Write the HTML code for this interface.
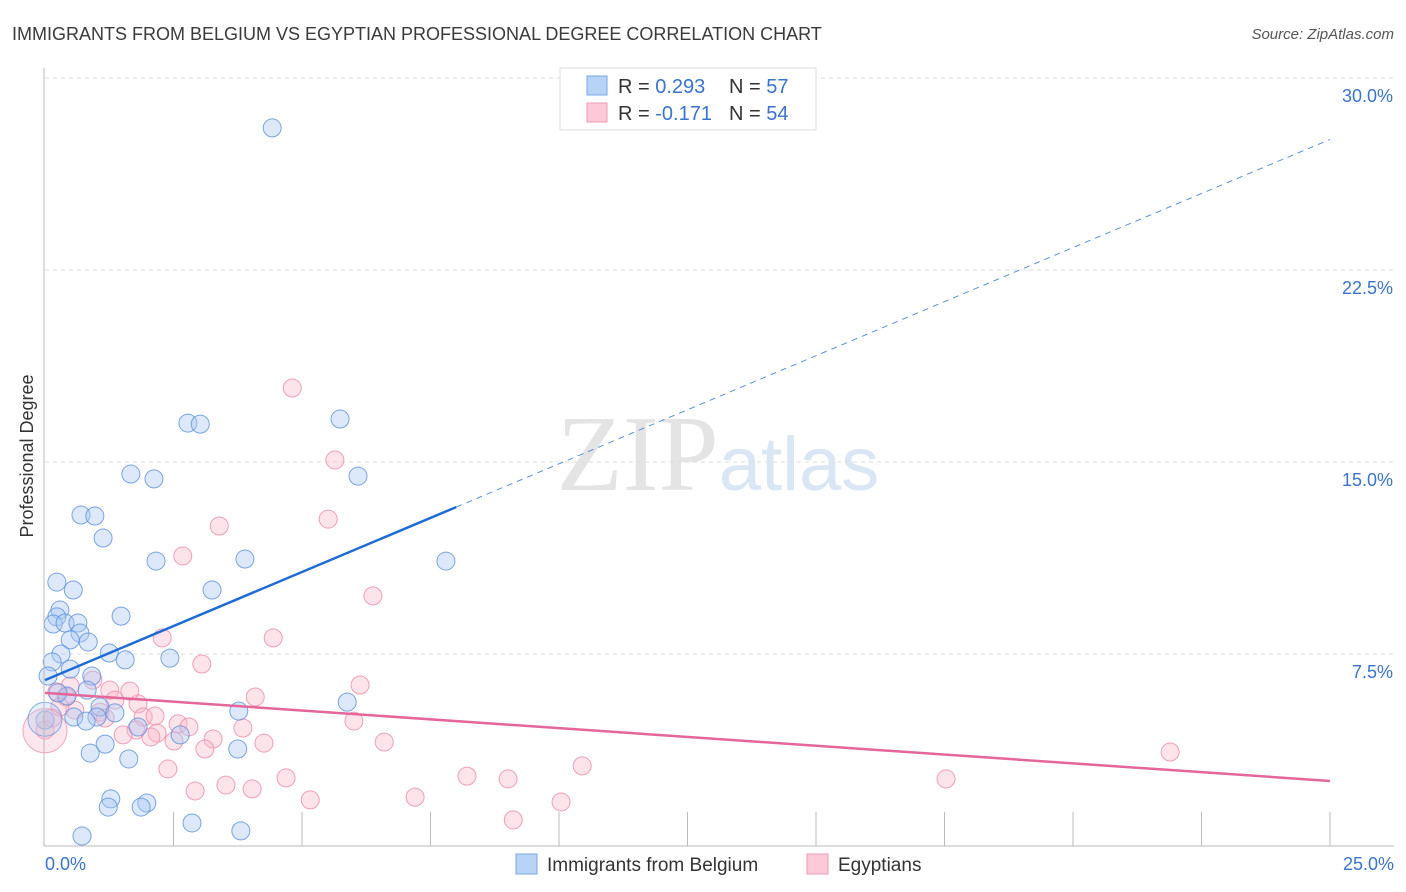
<!DOCTYPE html>
<html><head><meta charset="utf-8"><style>
body{margin:0;background:#fff;font-family:"Liberation Sans",sans-serif}
svg{display:block}
</style></head><body>
<svg id="chart" width="1406" height="892">
<text x="12" y="40" font-size="18" fill="#3a3a3a">IMMIGRANTS FROM BELGIUM VS EGYPTIAN PROFESSIONAL DEGREE CORRELATION CHART</text>
<text x="1394" y="39" font-size="15" fill="#555" font-style="italic" text-anchor="end">Source: ZipAtlas.com</text>
<text x="718" y="490" font-size="108" fill="#e4e4e4" text-anchor="middle" font-family="Liberation Serif">ZIP<tspan fill="#dbe6f5" font-family="Liberation Sans" font-size="76">atlas</tspan></text>
<g id="grid"></g>
<g id="marks"></g>
<line x1="44" y1="68" x2="44" y2="846" stroke="#bbb"/>
<line x1="44" y1="846" x2="1394" y2="846" stroke="#bbb"/>
<text transform="translate(33,456) rotate(-90)" font-size="18" fill="#333" text-anchor="middle">Professional Degree</text>
<text x="45" y="870" font-size="18" fill="#3b73d1">0.0%</text>
<text x="1394" y="870" font-size="18" fill="#3b73d1" text-anchor="end">25.0%</text>
<g>
<rect x="560" y="68" width="256" height="62" fill="#fff" stroke="#ddd"/>
<rect x="587" y="76" width="20" height="19" fill="#b7d3f6" stroke="#7aa7e6"/>
<rect x="587" y="103" width="20" height="19" fill="#fbc9d8" stroke="#ef9ab5"/>
<text x="618" y="93" font-size="20" fill="#333">R = <tspan fill="#3b73d1">0.293</tspan><tspan x="729">N = </tspan><tspan fill="#3b73d1">57</tspan></text>
<text x="618" y="120" font-size="20" fill="#333">R = <tspan fill="#3b73d1">-0.171</tspan><tspan x="729">N = </tspan><tspan fill="#3b73d1">54</tspan></text>
</g>
<g>
<rect x="516" y="854" width="21" height="20" fill="#b7d3f6" stroke="#7aa7e6"/>
<text x="547" y="871" font-size="19" fill="#333">Immigrants from Belgium</text>
<rect x="807" y="854" width="21" height="20" fill="#fbc9d8" stroke="#ef9ab5"/>
<text x="838" y="871" font-size="19" fill="#333">Egyptians</text>
</g>
</svg>
<script>
const yTicks=[7.5,15,22.5,30];
const yTickLabels=["7.5%","15.0%","22.5%","30.0%"];
const xTicks=[2.5,5,7.5,10,12.5,15,17.5,20,22.5,25];
const blueX=[4.42,2.78,3.02,5.74,1.67,2.12,6.09,0.70,0.97,1.13,2.16,3.89,7.80,0.23,0.55,3.25,0.29,0.23,1.48,0.16,0.39,0.64,0.68,0.84,0.49,0.31,1.25,1.56,2.43,0.14,0.49,0.06,0.91,0.82,0.43,5.88,1.07,1.36,0.56,1.01,0.80,3.77,1.81,2.63,1.17,0.88,3.75,1.63,1.28,1.23,1.98,1.87,0.72,2.86,3.81,0.00,0.25];
const blueY=[28.05,16.52,16.48,16.68,14.53,14.34,14.45,12.93,12.89,12.03,11.13,11.21,11.13,10.31,10.00,10.00,9.22,8.95,8.98,8.67,8.71,8.71,8.32,7.97,8.05,7.50,7.54,7.27,7.34,7.19,6.91,6.64,6.64,6.09,5.86,5.62,5.43,5.20,5.04,5.04,4.88,5.27,4.65,4.34,3.98,3.63,3.79,3.40,1.84,1.52,1.68,1.52,0.39,0.90,0.59,4.92,5.98];
const pinkX=[4.81,5.64,3.39,5.51,2.68,6.38,2.28,4.44,3.05,6.13,0.93,1.26,0.49,0.23,1.36,1.81,0.41,0.58,1.07,1.91,2.14,1.17,2.59,2.80,3.85,4.09,6.01,1.77,2.18,1.52,3.27,2.51,2.06,4.26,3.11,6.60,2.39,4.69,3.52,4.03,2.92,5.16,7.20,8.21,9.01,10.45,10.04,9.11,17.53,21.89,0.00,0.14,0.29,1.65];
const pinkY=[17.89,15.08,12.50,12.77,11.33,9.77,8.13,8.13,7.11,6.29,6.48,6.09,6.25,6.02,5.70,5.55,5.82,5.31,5.23,5.04,5.08,5.00,4.77,4.65,4.61,5.82,4.88,4.53,4.41,4.34,4.18,4.10,4.26,4.02,3.79,4.06,3.01,2.66,2.38,2.23,2.15,1.80,1.91,2.73,2.62,3.13,1.72,1.02,2.62,3.67,4.53,5.00,5.43,6.05];
const blueLine=[6.48,27.6];
const pinkLine=[5.98,2.54];
const NS="http://www.w3.org/2000/svg";
const X=v=>45+v*(1285/25);
const Y=v=>846-v*(768/30);
const grid=document.getElementById('grid'),marks=document.getElementById('marks');
function mk(t,a,p){const e=document.createElementNS(NS,t);for(const k in a)e.setAttribute(k,a[k]);p.appendChild(e);return e;}
yTicks.forEach((t,i)=>{
 const l=mk('line',{x1:45,x2:1394,y1:Y(t),y2:Y(t),stroke:'#ddd','stroke-dasharray':'4,4'},grid);
 
 
 const tx=mk('text',{x:1393,y:Y(t)+24,'font-size':18,fill:'#3b73d1','text-anchor':'end'},grid);
 tx.textContent=yTickLabels[i];
 
 
});
xTicks.forEach(t=>{
 const l=mk('line',{x1:X(t),x2:X(t),y1:812,y2:846,stroke:'#bbb'},grid);
 
 
});
function pts(xs,ys,fill,stroke,nm){
 xs.forEach((x,i)=>{
  const c=mk('circle',{cx:X(x),cy:Y(ys[i]),r:9,fill:fill,'fill-opacity':0.4,stroke:stroke,'stroke-opacity':0.8,'stroke-width':1},marks);
  
  
 });
}
pts(pinkX,pinkY,'#f9b8cb','#ec8aa9','pink-point');
pts(blueX,blueY,'#a9c9f3','#5b8fdc','blue-point');
let big=mk('circle',{cx:X(0),cy:Y(4.5),r:22,fill:'#f9b8cb','fill-opacity':0.35,stroke:'#ec8aa9','stroke-opacity':0.7},marks);


big=mk('circle',{cx:X(0),cy:Y(4.95),r:17,fill:'#a9c9f3','fill-opacity':0.3,stroke:'#5b8fdc','stroke-opacity':0.7},marks);


const bAt=x=>blueLine[0]+(blueLine[1]-blueLine[0])*x/25;
let l=mk('line',{x1:X(0),y1:Y(bAt(0)),x2:X(8.0),y2:Y(bAt(8.0)),stroke:'#1f6bd6','stroke-width':2.5},marks);


l=mk('line',{x1:X(8.0),y1:Y(bAt(8.0)),x2:X(25),y2:Y(bAt(25)),stroke:'#5b8fdc','stroke-width':1,'stroke-dasharray':'6,5'},marks);


l=mk('line',{x1:X(0),y1:Y(pinkLine[0]),x2:X(25),y2:Y(pinkLine[1]),stroke:'#e4669a','stroke-width':2.5},marks);


</script>
</body></html>
